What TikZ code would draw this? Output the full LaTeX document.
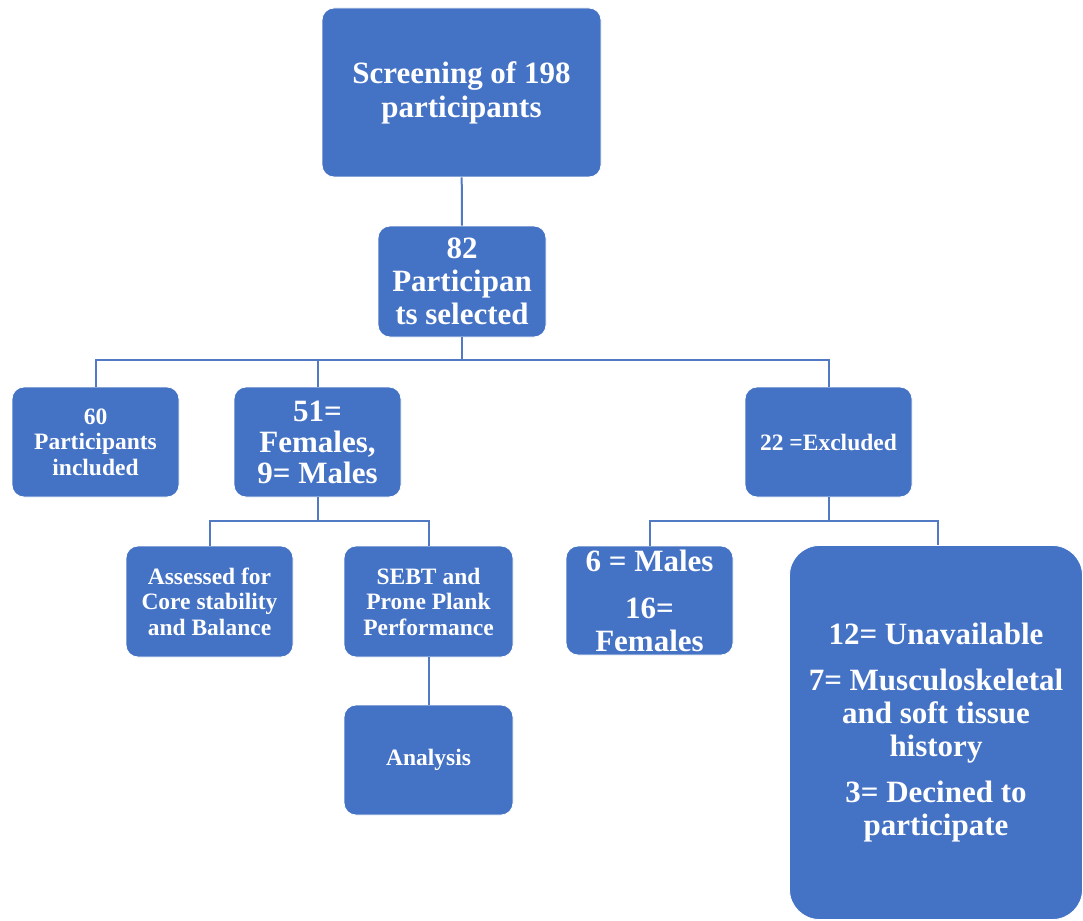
\documentclass[tikz,border=0pt]{standalone}
\usepackage{fontspec}
\setmainfont{Liberation Serif}
\usepackage{tikz}
\definecolor{bx}{RGB}{68, 114, 196}
\definecolor{ln}{RGB}{82, 122, 196}

\begin{document}
\begin{tikzpicture}[x=1pt, y=1pt,
  box/.style={rectangle, rounded corners=12pt, fill=bx, draw=white, line width=0.8pt, text=white, align=center, font=\bfseries},
  big/.style={box, font=\bfseries\fontsize{31}{33}\selectfont},
  small/.style={box, font=\bfseries\fontsize{23.5}{25.5}\selectfont},
  conn/.style={draw=ln, line width=2pt}]
\useasboundingbox (0,0) rectangle (1083,-920);
\node (screen) [big, minimum width=279pt, minimum height=169pt] at (461.5, -92.5) {Screening of 198\\[1pt]participants};
\node (sel) [big, minimum width=168pt, minimum height=111pt] at (462, -281.5) {82\\Participan\\ts selected};
\node (incl) [small, minimum width=167pt, minimum height=110pt] at (95.5, -442) {60\\Participants\\included};
\node (sex) [big, minimum width=167pt, minimum height=110pt, font=\bfseries\fontsize{31}{31}\selectfont] at (317.5, -442) {51=\\Females,\\9= Males};
\node (excl) [small, minimum width=167pt, minimum height=110pt] at (828.5, -442) {22 =Excluded};
\node (core) [small, minimum width=167pt, minimum height=111pt] at (209.5, -601.5) {Assessed for\\Core stability\\and Balance};
\node (sebt) [small, minimum width=169pt, minimum height=111pt] at (428.5, -601.5) {SEBT and\\Prone Plank\\Performance};
\node (anal) [small, minimum width=169pt, minimum height=110pt] at (428.5, -760) {Analysis};
\node (exsex) [big, minimum width=167pt, minimum height=109pt] at (649.5, -600.5) {6 = Males\\[14pt]16=\\Females};
\node (reason) [big, rounded corners=30pt, minimum width=293pt, minimum height=374pt] at (936, -732.5) {12= Unavailable\\[13pt]7= Musculoskeletal\\and soft tissue\\history\\[13pt]3= Decined to\\participate};
\coordinate (bus1) at (462, -360);
\coordinate (bus2) at (317.5, -521);
\coordinate (bus3) at (828.5, -521);
\draw [conn] (screen) -- (sel);
\draw [conn] (sel.south) -- (bus1) -| (incl.north);
\draw [conn] (bus1) -| (sex.north);
\draw [conn] (bus1) -| (excl.north);
\draw [conn] (sex.south) -- (bus2) -| (core.north);
\draw [conn] (bus2) -| (sebt.north);
\draw [conn] (sebt) -- (anal);
\draw [conn] (excl.south) -- (bus3) -| (exsex.north);
\draw [conn] (bus3) -| ([xshift=2pt]reason.north);
\end{tikzpicture}
\end{document}
